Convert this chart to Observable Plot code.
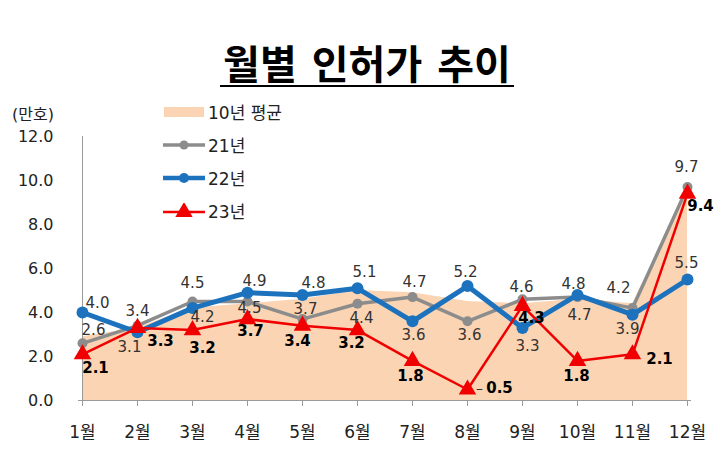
<!DOCTYPE html>
<html><head><meta charset="utf-8">
<script src="https://cdn.jsdelivr.net/npm/d3@7"></script>
<script src="https://cdn.jsdelivr.net/npm/@observablehq/plot@0.6"></script>
<style>
  html, body { margin: 0; padding: 0; background: #fff; }
  body { position: relative; width: 728px; height: 462px; overflow: hidden; font-family: 'DejaVu Sans', 'Noto Sans CJK KR', sans-serif; }
  #title { height: 95px; text-align: center; box-sizing: border-box; padding-top: 41px; padding-left: 6px; }
  #title span { font-family: 'Noto Sans CJK KR', sans-serif; font-weight: 700; font-size: 40px; line-height: 43px; display: inline-block; border-bottom: 2px solid #000; padding: 0 3px 1px 3px; word-spacing: 6px; color: #000; }
  #unit { position: absolute; left: 12px; top: 101px; font-size: 16px; color: #222; }
  #legend { position: absolute; left: 163px; top: 95px; font-size: 17px; color: #222; }
  .li { display: flex; align-items: center; height: 33px; }
  .li svg { margin-right: 3px; }
</style>
</head><body>
<div id="title"><span>월별 인허가 추이</span></div>
<div id="unit">(만호)</div>
<div id="legend"></div>
<div id="chart"></div>
<script>
const months = ["1월","2월","3월","4월","5월","6월","7월","8월","9월","10월","11월","12월"];
const avg10 = [2.9, 3.3, 4.2, 4.4, 4.6, 5.0, 4.9, 4.5, 4.4, 4.6, 4.4, 9.5];
const y21 = [2.6, 3.4, 4.5, 4.5, 3.7, 4.4, 4.7, 3.6, 4.6, 4.7, 4.2, 9.7];
const y22 = [4.0, 3.1, 4.2, 4.9, 4.8, 5.1, 3.6, 5.2, 3.3, 4.8, 3.9, 5.5];
const y23 = [2.1, 3.3, 3.2, 3.7, 3.4, 3.2, 1.8, 0.5, 4.3, 1.8, 2.1, 9.4];
const seriesNames = ["10년 평균", "21년", "22년", "23년"];
const yTicks = [0, 2, 4, 6, 8, 10, 12];

const cArea = "#FBD4B4", cGrey = "#8C8C8C", cBlue = "#1C72BC", cRed = "#F00000";

// label offsets (style only)
const off21 = [[11,-13],[0,-15],[0,-18],[2,7],[3,-10],[4,14],[2,-15],[2,14],[-1,-12],[2,18],[-14,-20],[-1,-20]];
const off22 = [[15,-9],[-8,15],[10,9],[7,-12],[11,-12],[7,-16],[1,14],[-2,-14],[5,18],[-4,-11],[-5,14],[-1,-16]];
const off23 = [[13,14],[23,13],[10,18],[3,12],[-5,15],[-6,13],[-2,15],[32,-1],[9,12],[-1,15],[27,5],[13,12]];

const idx = d3.range(months.length);
const fmt = d3.format(".1f");

function labels(vals, offs, bold) {
  return idx.map(i => Plot.text([i], {
    x: d => months[d], y: d => vals[d], text: d => fmt(vals[d]),
    dx: offs[i][0], dy: offs[i][1],
    fontSize: 15, fontWeight: bold ? "bold" : "normal", fill: bold ? "#000" : "#333"
  }));
}

const chart = Plot.plot({
  width: 728, height: 367,
  marginLeft: 78, marginRight: 37, marginTop: 41, marginBottom: 62,
  style: { fontFamily: "'DejaVu Sans', 'Noto Sans CJK KR', sans-serif", background: "transparent", overflow: "visible" },
  x: { type: "point", domain: months, padding: 0, label: null },
  y: { domain: [0, 12], label: null },
  marks: [
    Plot.areaY(idx, { x: d => months[d], y: d => avg10[d], fill: cArea }),
    Plot.ruleY([0], { stroke: "#9a9a9a", strokeWidth: 1 }),
    Plot.ruleX([months[0]], { stroke: "#9a9a9a", strokeWidth: 1 }),
    Plot.axisY({ ticks: yTicks, tickFormat: fmt, tickSize: 0, tickPadding: 25, fontSize: 16, fill: "#222" }),
    Plot.axisX({ tickSize: 6, tickPadding: 19, fontSize: 17, stroke: "#9a9a9a", fill: "#222" }),
    Plot.line(idx, { x: d => months[d], y: d => y21[d], stroke: cGrey, strokeWidth: 3.5 }),
    Plot.dot(idx, { x: d => months[d], y: d => y21[d], fill: cGrey, r: 5 }),
    Plot.line(idx, { x: d => months[d], y: d => y22[d], stroke: cBlue, strokeWidth: 5 }),
    Plot.dot(idx, { x: d => months[d], y: d => y22[d], fill: cBlue, r: 6 }),
    Plot.line(idx, { x: d => months[d], y: d => y23[d], stroke: cRed, strokeWidth: 2.5 }),
    Plot.dot(idx, { x: d => months[d], y: d => y23[d], fill: cRed, symbol: "triangle", r: 6.5 }),
    ...labels(y21, off21, false),
    ...labels(y22, off22, false),
    ...labels(y23, off23, true),
    Plot.text([7], { x: d => months[d], y: d => y23[d], text: () => "–", dx: 12, dy: -1, fontSize: 14, fill: "#333" })
  ]
});
document.getElementById("chart").appendChild(chart);

// legend
const legendSw = [
  `<svg width="42" height="14"><rect x="1" y="2" width="40" height="10" fill="${cArea}"/></svg>`,
  `<svg width="42" height="14"><line x1="0" y1="7" x2="42" y2="7" stroke="${cGrey}" stroke-width="3.5"/><circle cx="21" cy="7" r="4.5" fill="${cGrey}"/></svg>`,
  `<svg width="42" height="14"><line x1="0" y1="7" x2="42" y2="7" stroke="${cBlue}" stroke-width="4.5"/><circle cx="21" cy="7" r="5" fill="${cBlue}"/></svg>`,
  `<svg width="42" height="16"><line x1="0" y1="9" x2="42" y2="9" stroke="${cRed}" stroke-width="2.5"/><path d="${d3.symbol(d3.symbolTriangle, 130)()}" transform="translate(21,9)" fill="${cRed}"/></svg>`
];
document.getElementById("legend").innerHTML = seriesNames.map((n, i) =>
  `<div class="li">${legendSw[i]}<span>${n}</span></div>`).join("");
</script>
</body></html>
